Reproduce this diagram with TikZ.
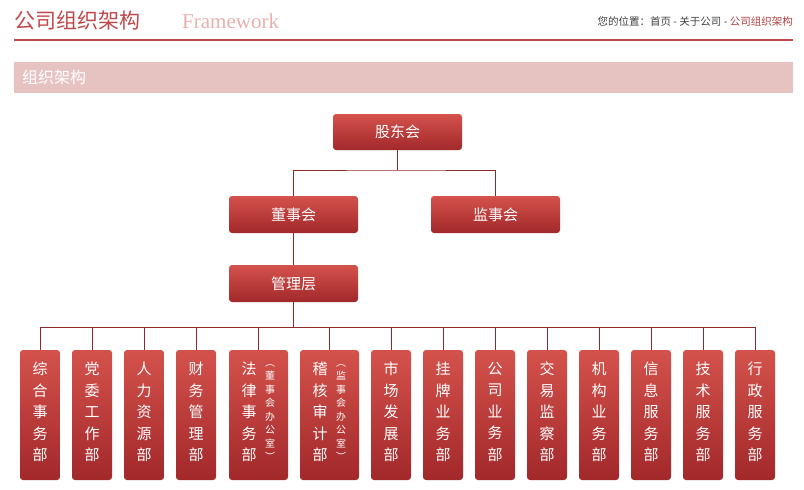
\documentclass[tikz,border=0pt]{standalone}
\usepackage{fontspec}
\setmainfont{Liberation Serif}
\newfontfamily\cjk{Noto Sans CJK SC}
\definecolor{hred}{HTML}{C0484A}
\definecolor{band}{HTML}{E6C3C0}
\definecolor{btop}{HTML}{D4524C}
\definecolor{bbot}{HTML}{A2282A}
\definecolor{ln}{HTML}{8E2A2A}
\begin{document}
\begin{tikzpicture}[x=1pt,y=-1pt,
  box/.style={rounded corners=3pt,top color=btop,bottom color=bbot,draw=none,text=white,font=\cjk\fontsize{15}{18}\selectfont},
  vt/.style={text=white,font=\cjk\fontsize{15}{21.5}\selectfont,align=center,inner sep=0},
  st/.style={text=white,font=\cjk\fontsize{10}{13.5}\selectfont,align=center,inner sep=0},
  con/.style={ln,line width=0.8pt}]
\useasboundingbox (0,0) rectangle (804,490);
\node[anchor=base west,text=hred,font=\cjk\fontsize{21}{24}\selectfont,inner sep=0] (t1) at (14,28) {公司组织架构};
\node[anchor=base west,text=band!90!red,font=\fontsize{21}{24}\selectfont,inner sep=0] (t2) at (182,28) {Framework};
\node[anchor=base east,font=\cjk\fontsize{10.5}{12}\selectfont,inner sep=0] (bc) at (793,25) {\textcolor{black!75}{您的位置：首页 - 关于公司 - }\textcolor{hred!90!black}{公司组织架构}};
\draw[hred,line width=2pt] (14,40) -- (793,40);
\fill[band] (14,62) rectangle (793,93);
\node[anchor=west,text=white,font=\cjk\fontsize{16}{18}\selectfont,inner sep=0] (bt) at (22,77.5) {组织架构};
\node[box,minimum width=129,minimum height=36] (gd) at (397.5,132) {股东会};
\node[box,minimum width=129,minimum height=37] (ds) at (293.5,214.5) {董事会};
\node[box,minimum width=129,minimum height=37] (js) at (495.5,214.5) {监事会};
\node[box,minimum width=129,minimum height=37] (gl) at (293.5,283.5) {管理层};
\coordinate (j1) at (397.5,170);
\draw[con] (gd.south) -- (j1);
\draw[con] (ds.north) |- (j1) -| (js.north);
\draw[con] (ds.south) -- (gl.north);
\coordinate (j2) at (293.5,327);
\draw[con] (gl.south) -- (j2);
\foreach \n/\x/\w/\t in {a/40/40/综\\合\\事\\务\\部, b/92/40/党\\委\\工\\作\\部, c/144/40/人\\力\\资\\源\\部, d/196/40/财\\务\\管\\理\\部,
  g/391/40/市\\场\\发\\展\\部, h/443/40/挂\\牌\\业\\务\\部, i/495/40/公\\司\\业\\务\\部, j/547/40/交\\易\\监\\察\\部,
  k/599/40/机\\构\\业\\务\\部, l/651/40/信\\息\\服\\务\\部, m/703/40/技\\术\\服\\务\\部, n/755/40/行\\政\\服\\务\\部}{
  \node[box,minimum width=\w,minimum height=130] (\n) at (\x,415) {};
  \node[vt,anchor=north] (\n t) at (\x,362) {\t};
  \draw[con] (\n.north) -- (\x,327);
}
\node[box,minimum width=59,minimum height=130] (e) at (258.5,415) {};
\node[vt,anchor=north] (et) at (249,362) {法\\律\\事\\务\\部};
\node[st,anchor=north] (es) at (270,364) {︵\\董\\事\\会\\办\\公\\室\\︶};
\node[box,minimum width=59,minimum height=130] (f) at (329.5,415) {};
\node[vt,anchor=north] (ft) at (320,362) {稽\\核\\审\\计\\部};
\node[st,anchor=north] (fs) at (341,364) {︵\\监\\事\\会\\办\\公\\室\\︶};
\draw[con] (e.north) -- (258.5,327);
\draw[con] (f.north) -- (329.5,327);
\draw[con] (40,327) -- (755,327);
\end{tikzpicture}
\end{document}
